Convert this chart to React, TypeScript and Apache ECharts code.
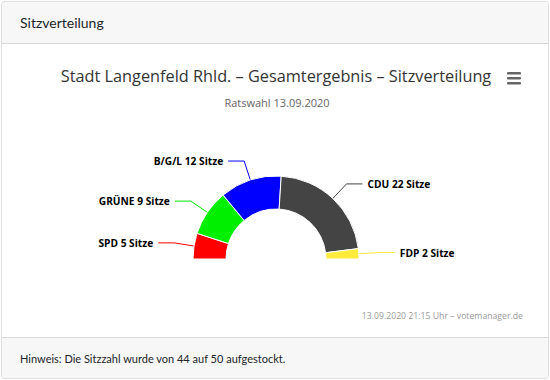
import React, { useEffect, useRef } from "react";
import * as echarts from "echarts";

const parties = ["SPD", "GRÜNE", "B/G/L", "CDU", "FDP"];
const seats = [5, 9, 12, 22, 2];
const colors = ["#ff0000", "#00ee00", "#0000ff", "#444444", "#ffeb3b"];
const titleText = "Stadt Langenfeld Rhld. – Gesamtergebnis – Sitzverteilung";
const subtitleText = "Ratswahl 13.09.2020";
const creditsText = "13.09.2020 21:15 Uhr – votemanager.de";
const headerText = "Sitzverteilung";
const footerText = "Hinweis: Die Sitzzahl wurde von 44 auf 50 aufgestockt.";

const FONT = "'Open Sans', 'Noto Sans', sans-serif";
const CARD_FONT = "Lato, 'Open Sans', sans-serif";

export default function App() {
  const ref = useRef<HTMLDivElement>(null);
  useEffect(() => {
    document.body.style.margin = "0";
    if (!ref.current) return;
    const chart = echarts.init(ref.current, undefined, { renderer: "svg" });
    chart.setOption({
      animation: false,
      textStyle: { fontFamily: FONT },
      graphic: [
        {
          type: "text",
          x: 276,
          y: 76,
          style: {
            text: titleText,
            font: `16.3px ${FONT}`,
            fill: "#333333",
            textAlign: "center",
            textVerticalAlign: "middle",
          },
        },
        {
          type: "text",
          x: 277,
          y: 102,
          style: {
            text: subtitleText,
            font: `11px ${FONT}`,
            fill: "#666666",
            textAlign: "center",
            textVerticalAlign: "middle",
          },
        },
        {
          type: "text",
          x: 523,
          y: 316,
          style: {
            text: creditsText,
            font: `8.7px ${FONT}`,
            fill: "#999999",
            textAlign: "right",
            textVerticalAlign: "middle",
          },
        },
        ...[73, 78, 83].map((y) => ({
          type: "rect",
          shape: { x: 507, y: y - 1, width: 14, height: 2.5, r: 1 },
          style: { fill: "#666666" },
        })),
      ],
      series: [
        {
          type: "pie",
          center: [276, 259],
          radius: [50, 83],
          startAngle: 180,
          endAngle: 0,
          clockwise: true,
          itemStyle: { borderColor: "#ffffff", borderWidth: 1 },
          label: {
            show: true,
            position: "outside",
            formatter: "{b} {c} Sitze",
            fontSize: 10.2,
            fontWeight: "bold",
            color: "#000000",
            fontFamily: FONT,
          },
          labelLine: { show: true, length: 20, length2: 16, lineStyle: { width: 1 } },
          emphasis: { disabled: true },
          data: parties.map((p, i) => ({
            name: p,
            value: seats[i],
            itemStyle: { color: colors[i] },
          })),
        },
      ],
    });
    return () => chart.dispose();
  }, []);

  return (
    <div style={{ position: "relative", width: 550, height: 380, fontFamily: CARD_FONT }}>
      <div
        style={{
          position: "absolute",
          left: 1,
          top: 1,
          width: 546,
          height: 376,
          border: "1px solid rgba(0,0,0,0.125)",
          borderRadius: 4,
          overflow: "hidden",
          background: "#fff",
        }}
      >
        <div
          style={{
            height: 41,
            background: "#f7f7f7",
            borderBottom: "1px solid rgba(0,0,0,0.125)",
            display: "flex",
            alignItems: "center",
            paddingLeft: 18,
            fontSize: 14,
            color: "#212529",
          }}
        >
          {headerText}
        </div>
        <div
          style={{
            position: "absolute",
            left: 0,
            right: 0,
            bottom: 0,
            height: 40,
            background: "#f7f7f7",
            borderTop: "1px solid rgba(0,0,0,0.125)",
            display: "flex",
            alignItems: "center",
            paddingLeft: 18,
            fontSize: 11,
            color: "#212529",
          }}
        >
          {footerText}
        </div>
      </div>
      <div ref={ref} style={{ position: "absolute", left: 0, top: 0, width: 550, height: 380 }} />
    </div>
  );
}
